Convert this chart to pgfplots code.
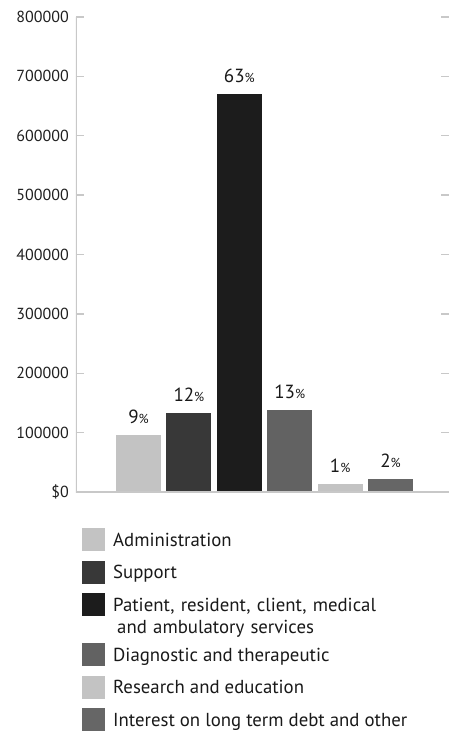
\documentclass[border=0pt]{standalone}
\usepackage{pgfplots}
\pgfplotsset{compat=1.18}
\usepackage{fontspec}
\setmainfont{PT Sans}
\definecolor{c1}{HTML}{C3C3C3}
\definecolor{c2}{HTML}{383838}
\definecolor{c3}{HTML}{1C1C1C}
\definecolor{c4}{HTML}{626262}
\definecolor{c5}{HTML}{C3C3C3}
\definecolor{c6}{HTML}{666666}
\definecolor{axgray}{HTML}{C8C8C8}
\pgfplotsset{
  sqlegend/.style={legend image code/.code={\fill[##1] (0bp,-5bp) rectangle (23bp,18bp);}},
  sqlegendtall/.style={legend image code/.code={\fill[##1] (0bp,-5bp) rectangle (23bp,18bp); \path (0bp,-22.5bp);}},
}
\begin{document}
\begin{tikzpicture}
\useasboundingbox (-76bp,-242bp) rectangle (374bp,492bp);
\begin{axis}[
  scale only axis, width=373bp, height=475bp,
  xmin=-0.24, xmax=7.16, ymin=0, ymax=800000,
  ybar, bar width=45bp, bar shift=0pt,
  xtick=\empty,
  ytick={0,100000,200000,300000,400000,500000,600000,700000,800000},
  yticklabels={\$0,100000,200000,300000,400000,500000,600000,700000,800000},
  scaled y ticks=false,
  tick label style={font=\fontsize{16bp}{18bp}\selectfont, text=black!88},
  yticklabel style={inner sep=0pt, xshift=-7bp},
  tick style={draw=axgray, line width=1.3bp},
  major tick length=8bp,
  axis line style={draw=none},
  point meta=explicit symbolic,
  nodes near coords={\pgfplotspointmeta{\fontsize{13bp}{13bp}\selectfont\%}},
  every node near coord/.append style={font=\fontsize{19bp}{22bp}\selectfont, inner sep=0pt, yshift=11bp, text=black!90},
  legend cell align=left,
  legend style={at={(0.0161,-0.0758)}, anchor=north west, draw=none, fill=none, inner sep=0pt,
    row sep=9.5bp, column sep=6bp, font=\fontsize{18.8bp}{22bp}\selectfont, text=black!90,
    cells={anchor=base west, inner sep=0pt}},
]
\addplot[fill=c1, draw=none, sqlegend] coordinates {(1,96000) [9]};
\addlegendentry{Administration}
\addplot[fill=c2, draw=none, sqlegend] coordinates {(2,132500) [12]};
\addlegendentry{Support}
\addplot[fill=c3, draw=none, sqlegendtall] coordinates {(3,670000) [63]};
\addlegendentry[text width=300bp]{Patient, resident, client, medical\\\hspace*{4bp}and ambulatory services}
\addplot[fill=c4, draw=none, sqlegend] coordinates {(4,138000) [13]};
\addlegendentry{Diagnostic and therapeutic}
\addplot[fill=c5, draw=none, sqlegend] coordinates {(5,13500) [1]};
\addlegendentry{Research and education}
\addplot[fill=c6, draw=none, sqlegend] coordinates {(6,22000) [2]};
\addlegendentry{Interest on long term debt and other}
\draw[axgray, line width=1.5bp] (rel axis cs:0,1) -- (rel axis cs:0,0) -- (rel axis cs:1,0);
\end{axis}
\end{tikzpicture}
\end{document}
